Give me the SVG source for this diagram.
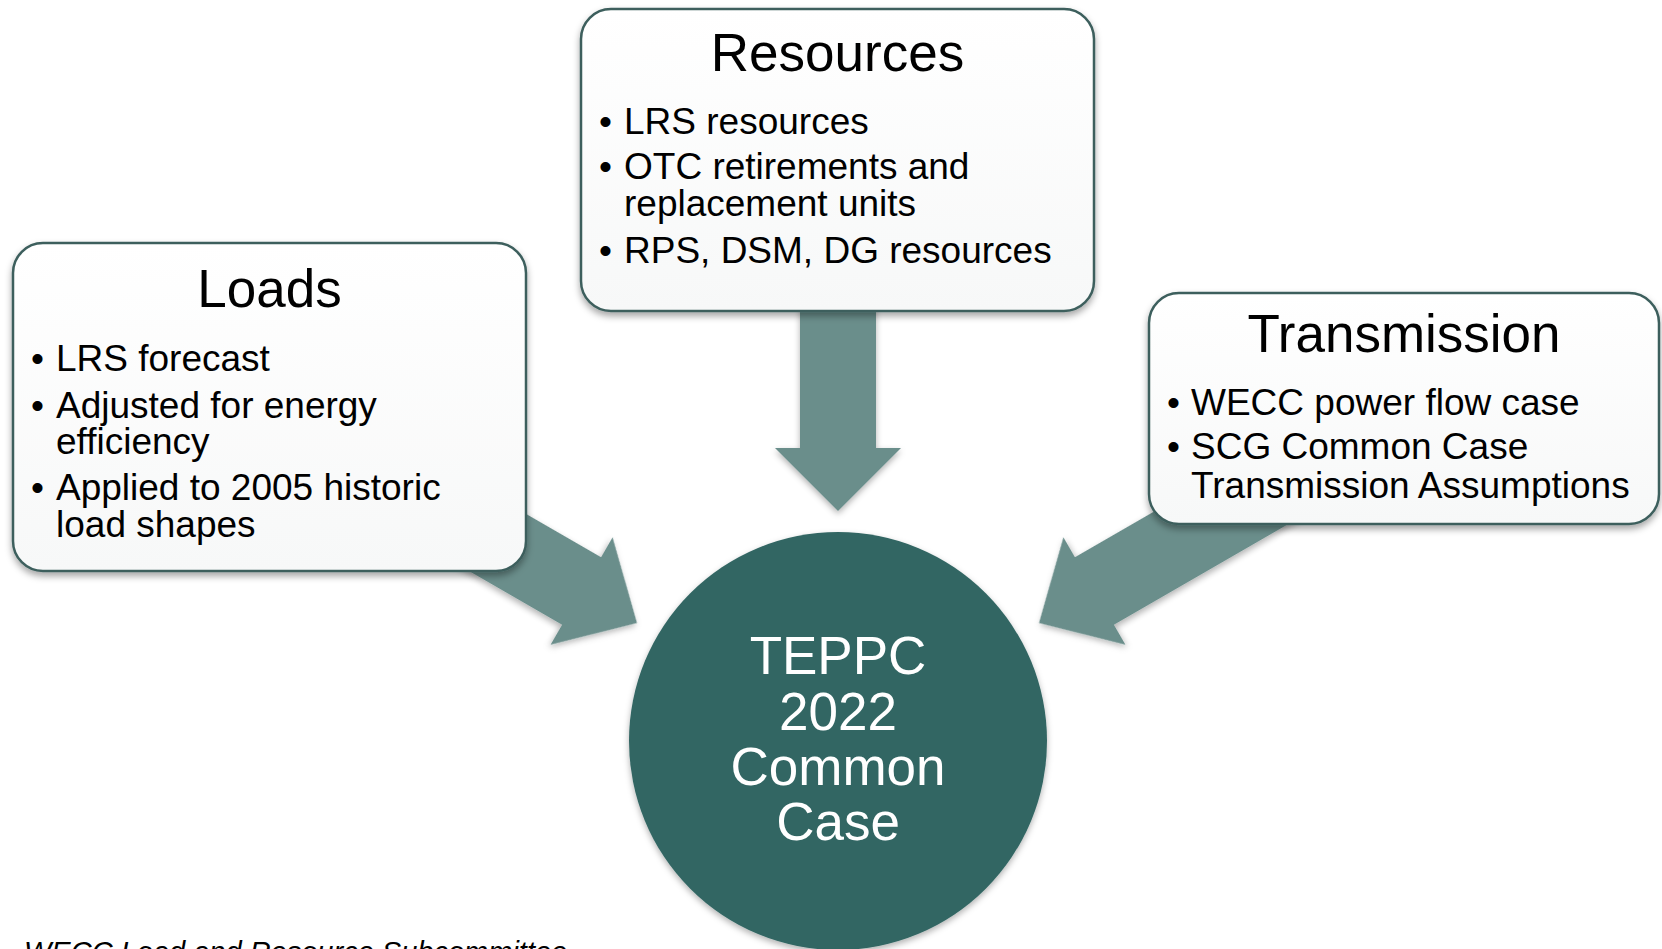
<svg xmlns="http://www.w3.org/2000/svg" width="1662" height="949" viewBox="0 0 1662 949">
  <defs>
    <filter id="shadow" x="-10%" y="-10%" width="125%" height="130%">
      <feDropShadow dx="0" dy="4" stdDeviation="3.5" flood-color="#000" flood-opacity="0.35"/>
    </filter>
    <filter id="ashadow" x="-15%" y="-15%" width="130%" height="135%">
      <feDropShadow dx="0" dy="3" stdDeviation="3" flood-color="#000" flood-opacity="0.3"/>
    </filter>
    <linearGradient id="boxfill" x1="0" y1="0" x2="0" y2="1">
      <stop offset="0" stop-color="#ffffff"/>
      <stop offset="1" stop-color="#f7f8f8"/>
    </linearGradient>
    <path id="arrowShape" d="M0,0 L-64,-62 L-64,-39 L-300,-39 L-300,39 L-64,39 L-64,62 Z"/>
  </defs>
  <style>
    .box { fill: url(#boxfill); stroke: #3d5f5d; stroke-width: 2.5; filter: url(#shadow); }
    .arrow { fill: #6b8e8b; filter: url(#ashadow); }
    .title { font-family: "Liberation Sans", Arial, sans-serif; font-size: 53px; fill: #000; text-anchor: middle; }
    .item { font-family: "Liberation Sans", Arial, sans-serif; font-size: 37px; fill: #000; }
    .center { font-family: "Liberation Sans", Arial, sans-serif; font-size: 53px; fill: #fff; text-anchor: middle; }
    .foot { font-family: "Liberation Sans", Arial, sans-serif; font-size: 29px; font-style: italic; fill: #000; }
  </style>
  <rect width="1662" height="949" fill="#ffffff"/>

  <g id="connectors">
    <use href="#arrowShape" class="arrow" transform="translate(637,623) rotate(30)"/>
    <use href="#arrowShape" class="arrow" transform="translate(1039,623) scale(-1,1) rotate(30)"/>
    <path class="arrow" d="M800,290 L876,290 L876,448 L901,448 L838,511 L775,448 L800,448 Z"/>
  </g>

  <g id="center-node">
    <circle cx="838" cy="741" r="209" fill="#336663" filter="url(#ashadow)"/>
    <text class="center" x="838" y="674">TEPPC</text>
    <text class="center" x="838" y="730">2022</text>
    <text class="center" x="838" y="785">Common</text>
    <text class="center" x="838" y="840">Case</text>
  </g>

  <g id="loads">
    <rect class="box" x="13" y="243" width="513" height="328" rx="30" ry="30"/>
    <text class="title" x="269.5" y="307">Loads</text>
    <text class="item" x="31" y="371">•</text>
    <text class="item" x="56" y="371">LRS forecast</text>
    <text class="item" x="31" y="418">•</text>
    <text class="item" x="56" y="418">Adjusted for energy</text>
    <text class="item" x="56" y="454">efficiency</text>
    <text class="item" x="31" y="500">•</text>
    <text class="item" x="56" y="500">Applied to 2005 historic</text>
    <text class="item" x="56" y="537">load shapes</text>
  </g>

  <g id="resources">
    <rect class="box" x="581" y="9" width="513" height="302" rx="30" ry="30"/>
    <text class="title" x="837.5" y="71">Resources</text>
    <text class="item" x="599" y="134">•</text>
    <text class="item" x="624" y="134">LRS resources</text>
    <text class="item" x="599" y="179">•</text>
    <text class="item" x="624" y="179">OTC retirements and</text>
    <text class="item" x="624" y="216">replacement units</text>
    <text class="item" x="599" y="263">•</text>
    <text class="item" x="624" y="263">RPS, DSM, DG resources</text>
  </g>

  <g id="transmission">
    <rect class="box" x="1149" y="293" width="510" height="231" rx="30" ry="30"/>
    <text class="title" x="1404" y="352">Transmission</text>
    <text class="item" x="1167" y="415">•</text>
    <text class="item" x="1191" y="415">WECC power flow case</text>
    <text class="item" x="1167" y="459">•</text>
    <text class="item" x="1191" y="459">SCG Common Case</text>
    <text class="item" x="1191" y="498">Transmission Assumptions</text>
  </g>

  <text class="foot" x="24" y="962">WECC Load and Resource Subcommittee</text>
</svg>
